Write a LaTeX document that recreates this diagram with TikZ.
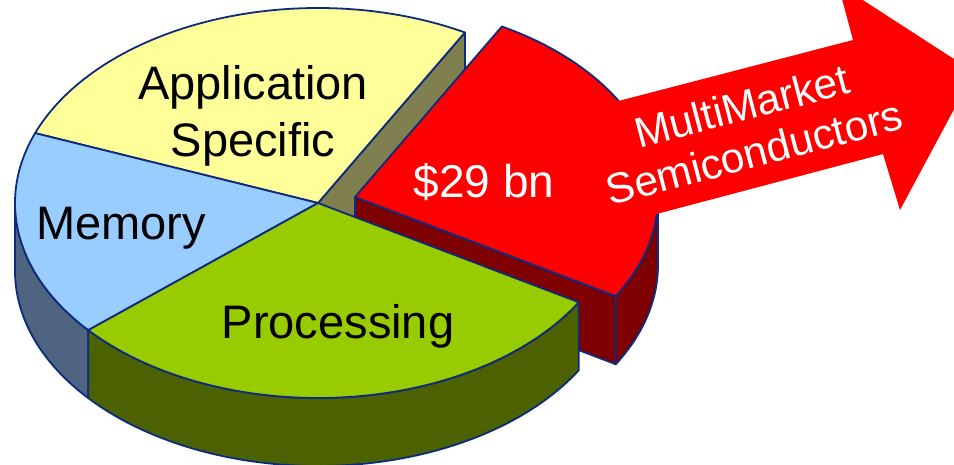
\documentclass[tikz,border=0pt]{standalone}
\usepackage{fontspec}
\setmainfont{Liberation Sans}
\usetikzlibrary{calc}
\definecolor{outl}{HTML}{0C2A7E}
\definecolor{appc}{HTML}{FFFF99}
\definecolor{appside}{HTML}{7F7F4F}
\definecolor{memc}{HTML}{99CCFF}
\definecolor{memside}{HTML}{4F6480}
\definecolor{procc}{HTML}{99CC00}
\definecolor{procside}{HTML}{4C6100}
\definecolor{redc}{HTML}{FF0000}
\definecolor{redside}{HTML}{7F0000}
\begin{document}
\begin{tikzpicture}[x=1pt,y=1pt,
  face/.style={draw=outl,line width=1.8pt,line join=round},
  lbl/.style={inner sep=0pt,align=center,font=\fontsize{47}{57}\selectfont},
  wlbl/.style={lbl,text=white}]
\useasboundingbox (0,0) rectangle (954,-464);
\clip (0,0) rectangle (954,-464);
% application cut face
\path[face,fill=appside] (318,-203) -- ++(61:303 and 195) -- ++(0,-68) -- (318,-271) -- cycle;
% exploded red slice
\coordinate (R) at (355,-197);
\coordinate (Rb) at (355,-265);
\path[face,fill=redside] (R) -- ++(-30.6:303 and 195) -- ++(0,-68) -- (Rb) -- cycle;
\path[face,fill=redside] (R) ++(-30.6:303 and 195) arc[start angle=-30.6,end angle=0,x radius=303,y radius=195] -- ++(0,-68) arc[start angle=0,end angle=-30.6,x radius=303,y radius=195] -- cycle;
\path[face,fill=redc] (R) -- ++(-30.6:303 and 195) arc[start angle=-30.6,end angle=61,x radius=303,y radius=195] -- cycle;
% main pie sides
\coordinate (C) at (318,-203);
\path[face,fill=memside] (C) ++(180:303 and 195) arc[start angle=180,end angle=220.7,x radius=303,y radius=195] -- ++(0,-68) arc[start angle=220.7,end angle=180,x radius=303,y radius=195] -- cycle;
\path[face,fill=procside] (C) ++(220.7:303 and 195) arc[start angle=220.7,end angle=329.4,x radius=303,y radius=195] -- ++(0,-68) arc[start angle=329.4,end angle=220.7,x radius=303,y radius=195] -- cycle;
% top faces
\path[face,fill=appc] (C) -- ++(61:303 and 195) arc[start angle=61,end angle=159,x radius=303,y radius=195] -- cycle;
\path[face,fill=memc] (C) -- ++(159:303 and 195) arc[start angle=159,end angle=220.7,x radius=303,y radius=195] -- cycle;
\path[face,fill=procc] (C) -- ++(220.7:303 and 195) arc[start angle=220.7,end angle=329.4,x radius=303,y radius=195] -- cycle;
% arrow
\fill[redc] (600,-105.8) -- (853,-40) -- (838,16) -- (974,-72) -- (900,-210) -- (883,-154) -- (630,-221) -- cycle;
% labels
\node[lbl] (app) at (253,-116) {Application\\Specific};
\node[lbl] (mem) at (121,-228) {Memory};
\node[lbl] (proc) at (338,-326) {Processing};
\node[wlbl,font=\fontsize{46}{55}\selectfont] (bn) at (484,-182) {\$29 bn};
\node[wlbl,rotate=14.7,font=\fontsize{42.5}{48}\selectfont] (mm) at (748,-129) {MultiMarket\\Semiconductors};
\end{tikzpicture}
\end{document}
